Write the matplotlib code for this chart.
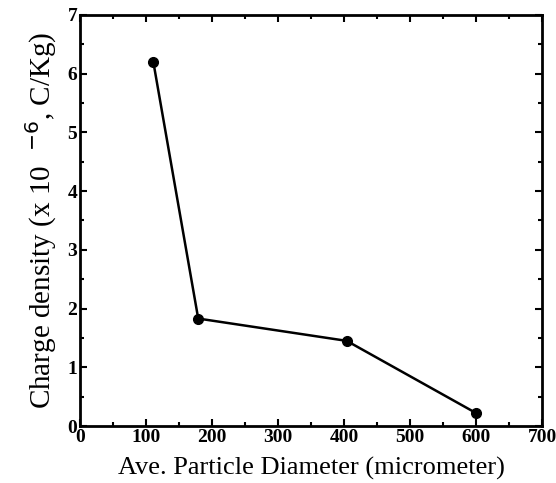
import matplotlib
matplotlib.use("Agg")
import matplotlib.pyplot as plt
from matplotlib.ticker import MultipleLocator

# particle size vs. charge density
diameter = [111, 179, 404, 600]
charge = [6.2, 1.83, 1.45, 0.22]

plt.rcParams["font.family"] = ["Liberation Serif", "DejaVu Serif"]

fig = plt.figure(figsize=(5.56, 4.83), dpi=100)
ax = fig.add_axes([0.144, 0.118, 0.831, 0.851])

ax.plot(diameter, charge, color="black", lw=1.8, marker="o", ms=7)

ax.set_xlim(0, 700)
ax.set_ylim(0, 7)
ax.xaxis.set_major_locator(MultipleLocator(100))
ax.xaxis.set_minor_locator(MultipleLocator(50))
ax.yaxis.set_major_locator(MultipleLocator(1))
ax.yaxis.set_minor_locator(MultipleLocator(0.5))
ax.tick_params(which="both", direction="in", top=True, right=True, width=1.5)
ax.tick_params(which="major", length=5, labelsize=14, pad=2)
ax.tick_params(which="minor", length=3)
for lbl in ax.get_xticklabels() + ax.get_yticklabels():
    lbl.set_fontweight("bold")
for s in ax.spines.values():
    s.set_linewidth(2)

ax.set_xlabel("Ave. Particle Diameter (micrometer)", fontsize=19, labelpad=8)
ax.set_ylabel("Charge density (x 10  $^{-6}$, C/Kg)", fontsize=21, labelpad=6)

fig.savefig("out.png", dpi=100)
